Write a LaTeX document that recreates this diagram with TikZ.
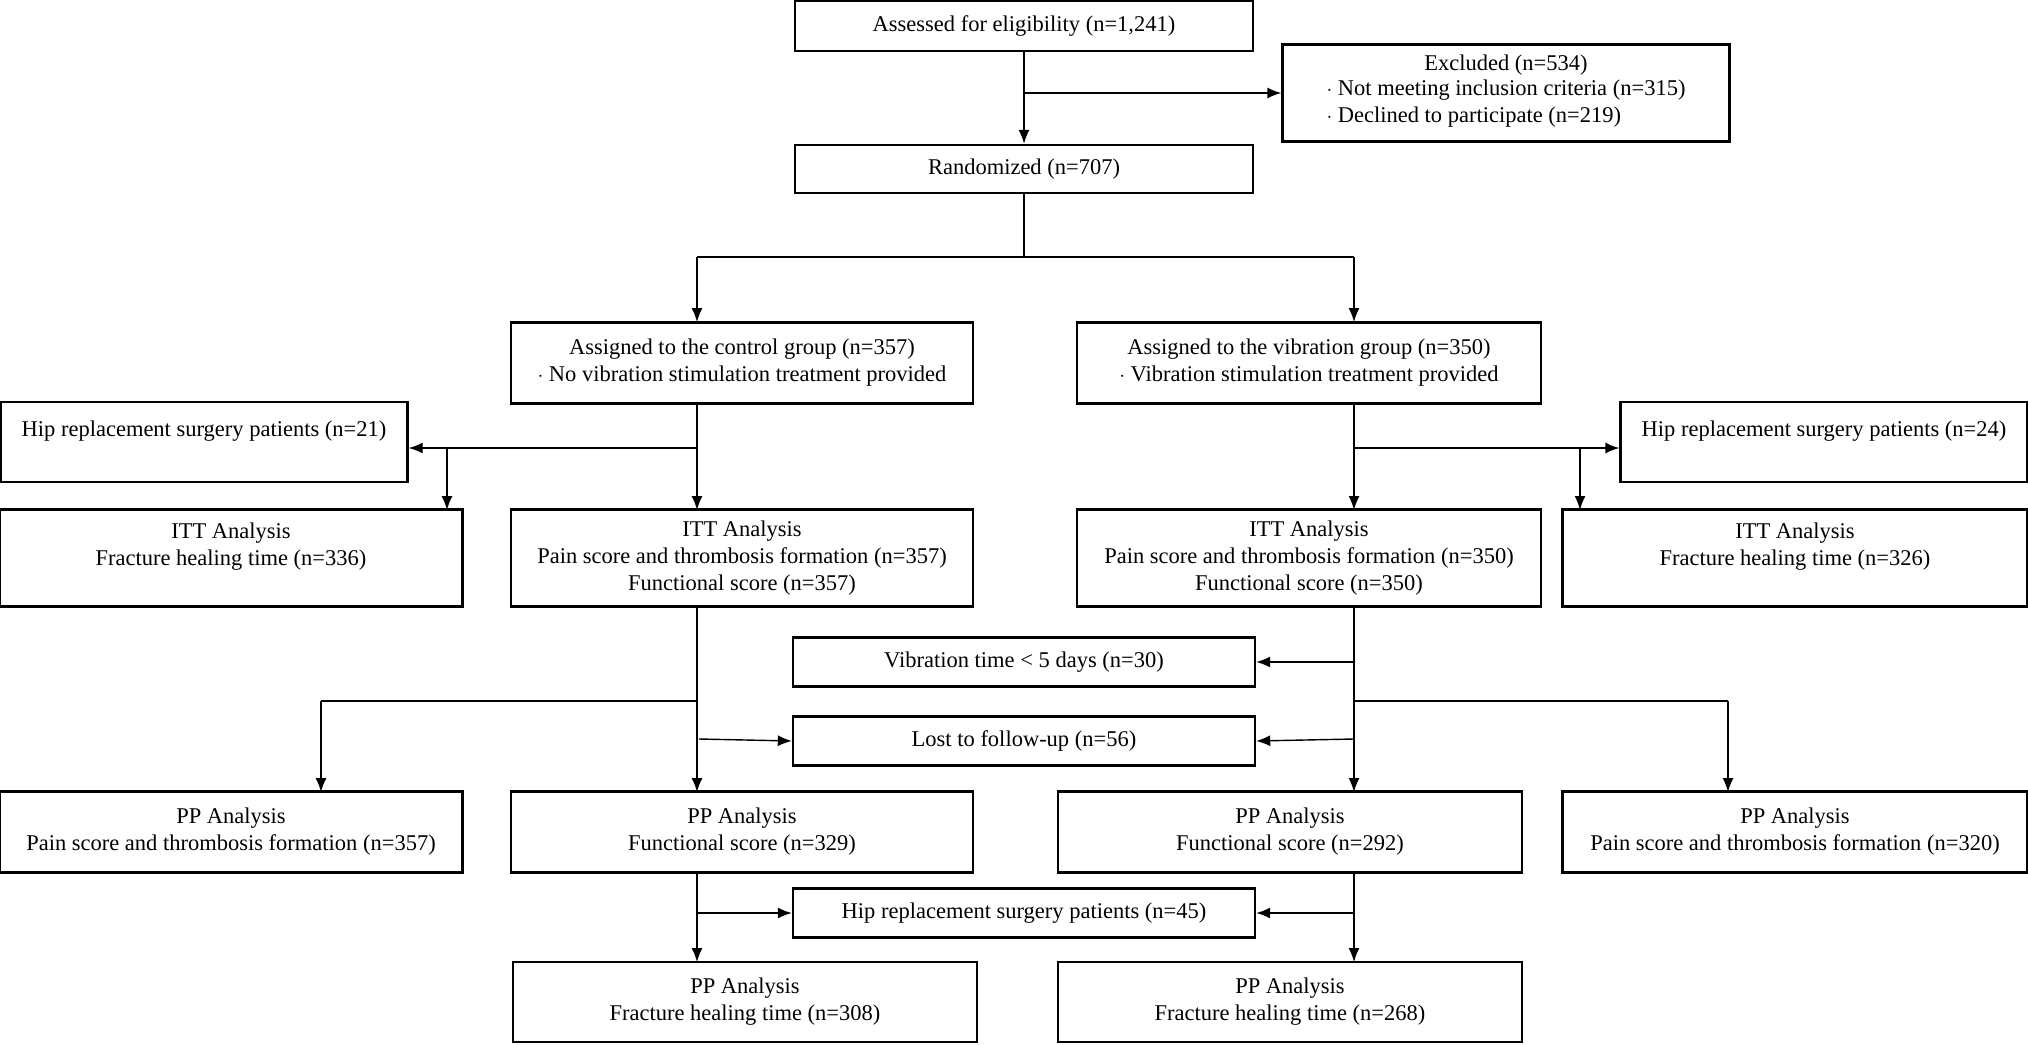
\documentclass[tikz,border=0pt]{standalone}
\usepackage{fontspec}
\setmainfont{Liberation Serif}
\usetikzlibrary{positioning, arrows.meta}
\tikzset{box/.style={draw, line width=2.4pt, align=center, inner sep=2pt, font=\fontsize{22.5}{27}\selectfont},
  arr/.style={-{Latex[length=14pt,width=11pt]}, line width=1.4pt}, ln/.style={line width=1.4pt}}
\begin{document}
\begin{tikzpicture}[x=1pt, y=-1pt]
\useasboundingbox (0,0) rectangle (2028,1044);
% top part
\node[box, minimum width=458, minimum height=50] (assess) at (1024,26) {Assessed for eligibility (n=1,241)};
\node[box, minimum width=447, minimum height=97] (excl) at (1506,93) {Excluded (n=534)\\\begin{tabular}{@{}l@{}}$\cdot$ Not meeting inclusion criteria (n=315)\\$\cdot$ Declined to participate (n=219)\end{tabular}};
\node[box, minimum width=458, minimum height=48] (rand) at (1024,169) {Randomized (n=707)};
\coordinate (e1) at (1024,93);
\draw[ln] (assess) -- (e1); \draw[arr] (e1) -- (excl.west); \draw[arr] (e1) -- (rand);
% groups
\node[box, minimum width=462, minimum height=81] (ctrl) at (742,363) {Assigned to the control group (n=357)\\$\cdot$ No vibration stimulation treatment provided};
\node[box, minimum width=464, minimum height=81] (vib) at (1309,363) {Assigned to the vibration group (n=350)\\$\cdot$ Vibration stimulation treatment provided};
\coordinate (r0) at (1024,257); \coordinate (rl) at (697,257); \coordinate (rr) at (1354,257);
\draw[ln] (rand) -- (r0); \draw[ln] (rl) -- (rr);
\draw[arr] (rl) -- (697,322); \draw[arr] (rr) -- (1354,322);
% hip side boxes and ITT
\node[box, minimum width=407, minimum height=80] (hipL) at (204,442) {Hip replacement surgery patients (n=21)\\\mbox{}};
\node[box, minimum width=407, minimum height=80] (hipR) at (1824,442) {Hip replacement surgery patients (n=24)\\\mbox{}};
\node[box, minimum width=463, minimum height=97] (ittL) at (231,558) {ITT Analysis\\Fracture healing time (n=336)\\\mbox{}};
\node[box, minimum width=462, minimum height=97] (ittC) at (742,558) {ITT Analysis\\Pain score and thrombosis formation (n=357)\\Functional score (n=357)};
\node[box, minimum width=464, minimum height=97] (ittV) at (1309,558) {ITT Analysis\\Pain score and thrombosis formation (n=350)\\Functional score (n=350)};
\node[box, minimum width=465, minimum height=97] (ittR) at (1795,558) {ITT Analysis\\Fracture healing time (n=326)\\\mbox{}};
\coordinate (cl) at (697,448); \coordinate (cl2) at (447,448);
\coordinate (vr) at (1354,448); \coordinate (vr2) at (1580,448);
\draw[ln] (697,403) -- (cl); \draw[arr] (cl) -- (hipL.east |- cl); \draw[arr] (cl2) -- (447,510); \draw[arr] (cl) -- (697,510);
\draw[ln] (1354,403) -- (vr); \draw[arr] (vr) -- (hipR.west |- vr); \draw[arr] (vr2) -- (1580,510); \draw[arr] (vr) -- (1354,510);
% exclusions in the middle
\node[box, minimum width=462, minimum height=49] (vtime) at (1024,662) {Vibration time < 5 days (n=30)};
\node[box, minimum width=462, minimum height=49] (lost) at (1024,741) {Lost to follow-up (n=56)};
\node[box, minimum width=463, minimum height=81] (pp1) at (231,832) {PP Analysis\\Pain score and thrombosis formation (n=357)};
\node[box, minimum width=462, minimum height=81] (pp2) at (742,832) {PP Analysis\\Functional score (n=329)};
\node[box, minimum width=464, minimum height=81] (pp3) at (1290,832) {PP Analysis\\Functional score (n=292)};
\node[box, minimum width=465, minimum height=81] (pp4) at (1795,832) {PP Analysis\\Pain score and thrombosis formation (n=320)};
\coordinate (a1) at (697,701); \coordinate (a2) at (321,701);
\coordinate (b1) at (1354,701); \coordinate (b2) at (1728,701);
\draw[arr] (697,607) -- (697,792); \draw[arr] (1354,607) -- (1354,792);
\draw[ln] (a1) -- (a2); \draw[arr] (a2) -- (321,792);
\draw[ln] (b1) -- (b2); \draw[arr] (b2) -- (1728,792);
\draw[arr] (1354,662) -- (vtime.east);
\draw[arr] (699,739) -- (lost.west); \draw[arr] (1354,739) -- (lost.east);
% bottom
\node[box, minimum width=462, minimum height=49] (hipM) at (1024,913) {Hip replacement surgery patients (n=45)};
\node[box, minimum width=464, minimum height=80] (fhL) at (745,1002) {PP Analysis\\Fracture healing time (n=308)};
\node[box, minimum width=464, minimum height=80] (fhR) at (1290,1002) {PP Analysis\\Fracture healing time (n=268)};
\draw[arr] (697,873) -- (697,962); \draw[arr] (1354,873) -- (1354,962);
\draw[arr] (697,913) -- (hipM.west); \draw[arr] (1354,913) -- (hipM.east);
\end{tikzpicture}
\end{document}
